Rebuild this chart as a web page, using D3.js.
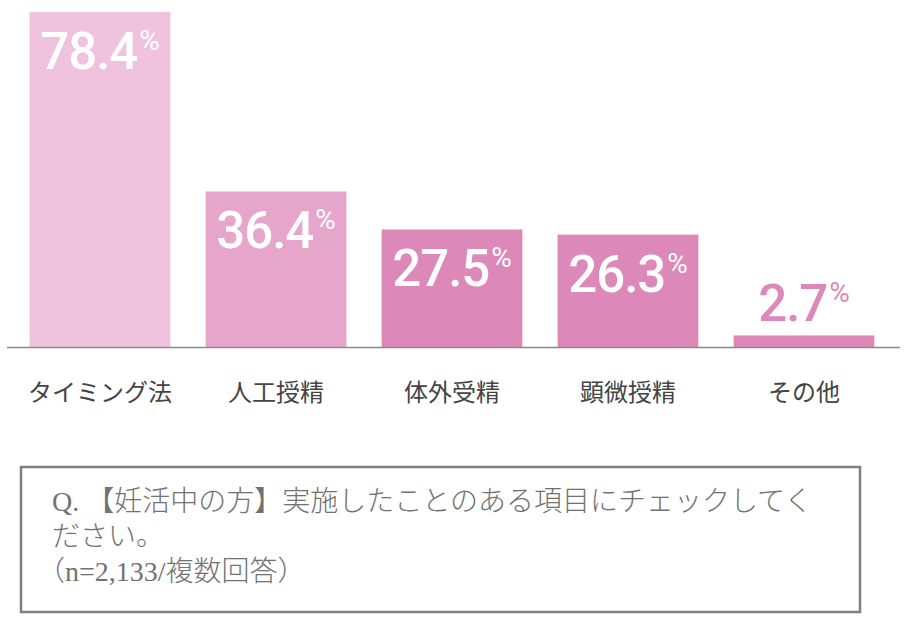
<!DOCTYPE html>
<html><head><meta charset="utf-8">
<script src="https://cdn.jsdelivr.net/npm/d3@7/dist/d3.min.js"></script>
<style>body{margin:0;background:#fff}svg{display:block}</style>
</head><body>
<script>
const categories = ["タイミング法","人工授精","体外受精","顕微授精","その他"];
const values = [78.4, 36.4, 27.5, 26.3, 2.7];
const colors = ["#efc2dd","#e6a6cb","#dc88b9","#dc88b9","#dc88b9"];
const noteLines = ["Q. 【妊活中の方】実施したことのある項目にチェックしてく","ださい。","（n=2,133/複数回答）"];

const W = 906, H = 619;
const svg = d3.select("body").append("svg").attr("width", W).attr("height", H);

const x = d3.scaleBand().domain(categories).range([12, 892]).paddingInner(0.2).paddingOuter(0.1);
const y = d3.scaleLinear().domain([0, 78.4]).range([347, 12]);

svg.selectAll("rect.bar").data(values).enter().append("rect")
  .attr("class","bar")
  .attr("x", (d,i)=>x(categories[i]))
  .attr("width", x.bandwidth())
  .attr("y", d=>y(d))
  .attr("height", d=>y(0)-y(d))
  .attr("fill", (d,i)=>colors[i]);

// baseline
svg.append("line").attr("x1",7).attr("x2",900).attr("y1",y(0)+0.5).attr("y2",y(0)+0.5)
  .attr("stroke","#8a8a8a").attr("stroke-width",1.5);

// value labels
const lab = svg.selectAll("text.val").data(values).enter().append("text")
  .attr("class","val")
  .attr("x",(d,i)=>x(categories[i])+x.bandwidth()/2)
  .attr("y", d => (y(0)-y(d) > 70) ? y(d)+57 : y(d)-14)
  .attr("text-anchor","middle")
  .attr("fill",(d,i)=> (y(0)-y(d) > 70) ? "#ffffff" : colors[i])
  .style("font-family","Roboto, 'Liberation Sans', Arial, sans-serif")
  .style("font-weight","500");
lab.append("tspan").style("font-size","51px").style("letter-spacing","-1px").text(d=>d.toFixed(1));
lab.append("tspan").style("font-size","28px").style("font-weight","400").attr("dy","-19").attr("dx","2").text("%");

// category labels
svg.selectAll("text.cat").data(categories).enter().append("text")
  .attr("class","cat")
  .attr("x", d=>x(d)+x.bandwidth()/2)
  .attr("y", 401)
  .attr("text-anchor","middle")
  .attr("fill","#444444")
  .style("font-family","'Noto Sans CJK JP', sans-serif")
  .style("font-size","24px")
  .text(d=>d);

// note box
svg.append("rect").attr("x",21).attr("y",467).attr("width",839).attr("height",145)
  .attr("fill","none").attr("stroke","#808080").attr("stroke-width",2.5);
svg.selectAll("text.note").data(noteLines).enter().append("text")
  .attr("class","note")
  .attr("x",(d,i)=> i==2 ? 37 : 52)
  .attr("y",(d,i)=>511 + i*35)
  .attr("fill","#727272")
  .style("font-family","'Liberation Serif', 'Noto Sans CJK JP', serif")
  .style("font-size","28px")
  .style("font-weight","300")
  .text(d=>d);
</script>
</body></html>
